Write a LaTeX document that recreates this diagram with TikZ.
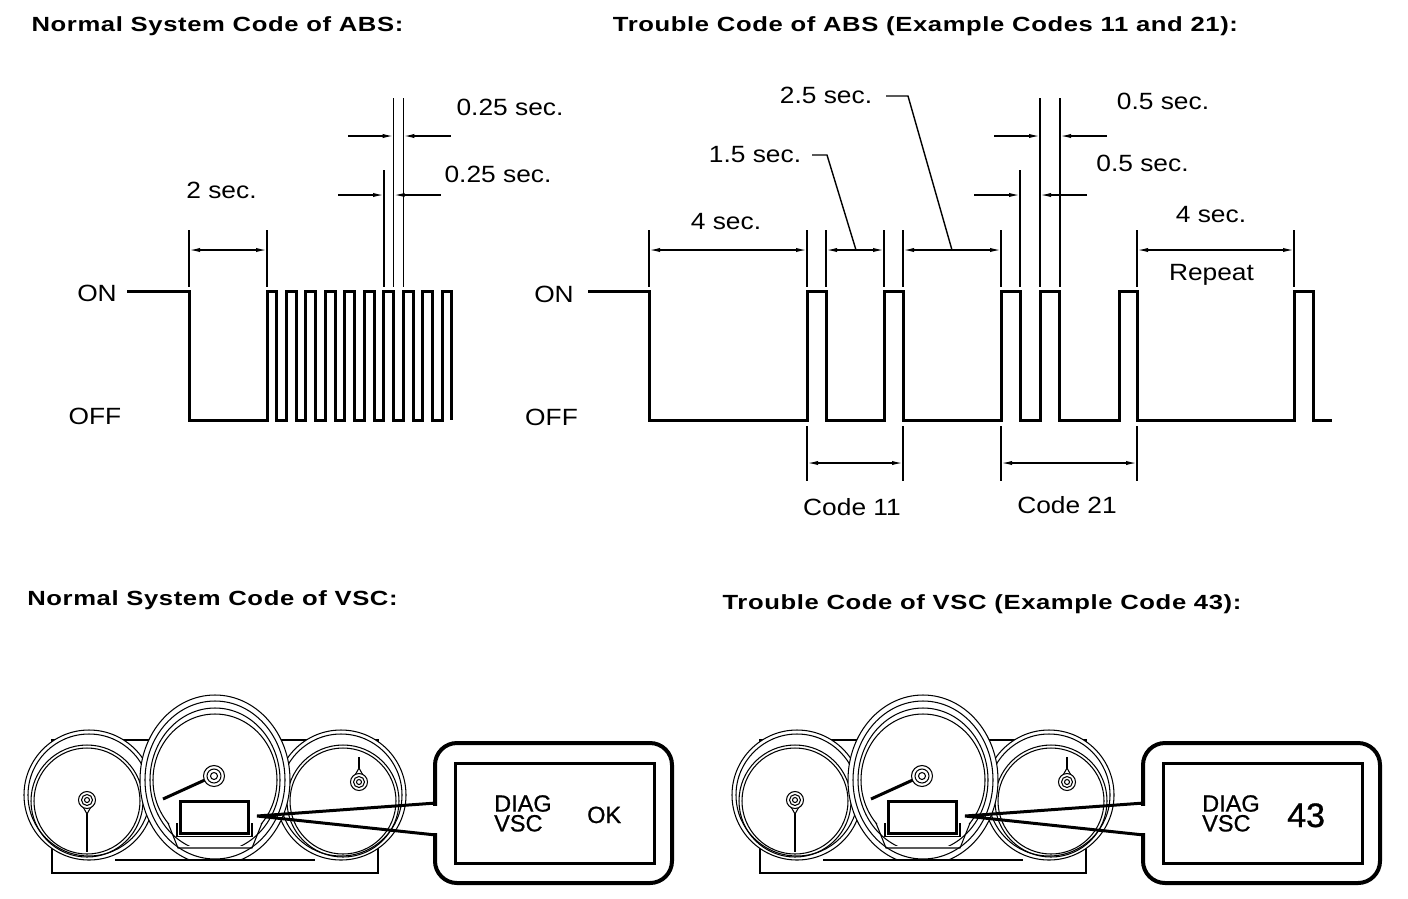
\documentclass[tikz,border=0pt]{standalone}
\usepackage{fontspec}
\setmainfont{Liberation Sans}
\newfontfamily\lblfam[FakeStretch=1.12]{Liberation Sans}
\newfontfamily\ttlfam[FakeStretch=1.25,LetterSpace=3]{Liberation Sans}
\newfontfamily\lcdfam[FakeBold=0.8]{Liberation Sans}
\usetikzlibrary{arrows.meta}

\newcommand\drawcluster[2]{%
  % housing
  \filldraw[fill=white,gline] (52,740) rectangle (378,873);
  % left gauge
  \filldraw[fill=white,gline] (89,795) circle[radius=65pt];
  \draw[gline] (89,795) circle[radius=61pt];
  \draw[gline] (87,801) circle[radius=56pt];
  \draw[gline] (87,801) circle[radius=53pt];
  % right gauge
  \filldraw[fill=white,gline] (341,795) circle[radius=65pt];
  \draw[gline] (341,795) circle[radius=61pt];
  \draw[gline] (343,801) circle[radius=56pt];
  \draw[gline] (343,801) circle[radius=53pt];
  % center gauge
  \begin{scope}
    \clip (100,600) rectangle (330,860);
    \filldraw[fill=white,gline] (215,780) ellipse[x radius=75pt,y radius=85pt];
    \draw[gline] (215,780) ellipse[x radius=70pt,y radius=79pt];
  \end{scope}
  \begin{scope}
    \clip (100,600) rectangle (330,845);
    \draw[gline] (215,780) ellipse[x radius=65pt,y radius=72pt];
  \end{scope}
  \begin{scope}
    \clip (100,600) rectangle (330,823);
    \draw[gline] (215,780) ellipse[x radius=62pt,y radius=66pt];
  \end{scope}
  \draw[gline] (168,823) -- (178,848) -- (252,848) -- (262,823);
  \draw[gline] (115,860) -- (315,860);
  % left pointer
  \draw[line width=2.2pt] (87,806) -- (87,852);
  \filldraw[fill=white,gline] (82,805) -- (87,814) -- (92,805) -- cycle;
  \filldraw[fill=white,gline] (87,800) circle[radius=8.5pt];
  \draw[gline] (87,800) circle[radius=5.5pt];
  \draw[gline] (87,800) circle[radius=2.5pt];
  % right pointer
  \draw[line width=2.2pt] (359,776) -- (359,757);
  \filldraw[fill=white,gline] (354,777) -- (359,768) -- (364,777) -- cycle;
  \filldraw[fill=white,gline] (359,782) circle[radius=8.5pt];
  \draw[gline] (359,782) circle[radius=5.5pt];
  \draw[gline] (359,782) circle[radius=2.5pt];
  % center pointer
  \draw[line width=3pt] (207,779) -- (163,799);
  \filldraw[fill=white,gline] (214,776) circle[radius=10.5pt];
  \draw[gline] (214,776) circle[radius=7pt];
  \draw[gline] (214,776) circle[radius=3.5pt];
  % small display
  \draw[line width=3pt] (180,801) rectangle (248,833);
  \draw[line width=1.3pt] (177,823) -- (177,836.5) -- (252,836.5) -- (252,823);
  % callout
  \draw[line width=4pt,rounded corners=22pt] (435,743) rectangle (672,883);
  \fill[white] (430,805.5) rectangle (440,832.5);
  \draw[line width=3pt,line join=miter] (436,803) -- (257,816) -- (436,835);
  \draw[line width=3pt] (455,763) rectangle (654,863);
  \node[lcd,align=left,anchor=north west] (#1diag) at (494,795) {DIAG\\VSC};
  #2
}

\begin{document}
\begin{tikzpicture}[x=1pt,y=-1pt,
  >={Latex[length=11pt,width=4.2pt]},
  wave/.style={line width=3pt,line join=miter},
  ext/.style={line width=1.1pt},
  dim/.style={line width=1.4pt},
  gline/.style={line width=1.05pt},
  lbl/.style={font=\lblfam\fontsize{23.5}{26}\selectfont,inner sep=0pt,anchor=base},
  ttl/.style={font=\ttlfam\bfseries\fontsize{20.5}{24}\selectfont,inner sep=0pt,anchor=base},
  lcd/.style={font=\lcdfam\fontsize{23.5}{19.8}\selectfont,inner sep=0pt},
  lead/.style={line width=1.4pt,line join=miter}]
\fill[white] (0,0) rectangle (1408,898);
\useasboundingbox (0,0) rectangle (1408,898);

% ---------- titles
\node[ttl] (t1) at (217.5,31) {Normal System Code of ABS:};
\node[ttl] (t2) at (925.5,31) {Trouble Code of ABS (Example Codes 11 and 21):};
\node[ttl] (t3) at (212.5,605) {Normal System Code of VSC:};
\node[ttl] (t4) at (982,609) {Trouble Code of VSC (Example Code 43):};

% ---------- left waveform
\node[lbl] (on1) at (97,301) {ON};
\node[lbl] (off1) at (95,424) {OFF};
\draw[wave] (127,291) -- (189,291) -- (189,420) -- (267,420) -- (267,291)
  \foreach \k in {1,...,9} { -- ++(9.735,0) -- ++(0,129) -- ++(9.735,0) -- ++(0,-129) }
  -- ++(9.735,0) -- ++(0,129);
% 2 sec
\draw[ext] (189,230) -- (189,287);
\draw[ext] (267,230) -- (267,287);
\draw[dim,<->] (189,250) -- (267,250);
\node[lbl] (l2s) at (221.5,198) {2 sec.};
% 0.25 sec
\draw[ext] (393.7,98) -- (393.7,287);
\draw[ext] (403.3,98) -- (403.3,287);
\draw[ext] (384,170) -- (384,287);
\draw[dim,->] (348,136) -- (393.7,136);
\draw[dim,->] (450.7,136) -- (403.3,136);
\draw[dim,->] (338,195) -- (384,195);
\draw[dim,->] (440.7,195) -- (393.7,195);
\node[lbl] (l025a) at (510,115) {0.25 sec.};
\node[lbl] (l025b) at (498,182) {0.25 sec.};

% ---------- right waveform
\node[lbl] (on2) at (554,302) {ON};
\node[lbl] (off2) at (551.5,425) {OFF};
\draw[wave] (588,291) -- (649,291) -- (649,420) -- (807,420) -- (807,291) -- (826,291)
  -- (826,420) -- (884,420) -- (884,291) -- (903,291) -- (903,420) -- (1001,420)
  -- (1001,291) -- (1020,291) -- (1020,420) -- (1040,420) -- (1040,291) -- (1059,291)
  -- (1059,420) -- (1119,420) -- (1119,291) -- (1137,291) -- (1137,420) -- (1294,420)
  -- (1294,291) -- (1313,291) -- (1313,420) -- (1332,420);
% upper extension lines
\foreach \xx in {649,807,826,884,903,1001,1137,1294} { \draw[ext] (\xx,230) -- (\xx,287); }
\draw[ext] (1040,98) -- (1040,287);
\draw[ext] (1060,98) -- (1060,287);
\draw[ext] (1020,170) -- (1020,287);
% lower extension lines
\foreach \xx in {807,903,1001,1137} { \draw[ext] (\xx,426) -- (\xx,481); }
% dimensions
\draw[dim,<->] (649,250) -- (807,250);
\node[lbl] (l4a) at (726,229) {4 sec.};
\draw[dim,<->] (826,250) -- (884,250);
\draw[lead] (812,155) -- (827,155) -- (856,250);
\node[lbl] (l15) at (755,162) {1.5 sec.};
\draw[dim,<->] (903,250) -- (1001,250);
\draw[lead] (886,96) -- (908,96) -- (952,250);
\node[lbl] (l25) at (826,103) {2.5 sec.};
\draw[dim,->] (994,136) -- (1040,136);
\draw[dim,->] (1107,136) -- (1060,136);
\node[lbl] (l05a) at (1163,109) {0.5 sec.};
\draw[dim,->] (974,195) -- (1020,195);
\draw[dim,->] (1087,195) -- (1040,195);
\node[lbl] (l05b) at (1142.5,171) {0.5 sec.};
\draw[dim,<->] (1137,250) -- (1294,250);
\node[lbl] (l4b) at (1211,222) {4 sec.};
\node[lbl] (rep) at (1211.5,280) {Repeat};
\draw[dim,<->] (807,463) -- (903,463);
\node[lbl] (c11) at (852,515) {Code 11};
\draw[dim,<->] (1001,463) -- (1137,463);
\node[lbl] (c21) at (1067,513) {Code 21};

% ---------- instrument clusters
\begin{scope}
  \drawcluster{a}{\node[lcd,anchor=base west] (aok) at (587,823) {OK};}
\end{scope}
\begin{scope}[xshift=708pt]
  \drawcluster{b}{\node[font=\lcdfam\fontsize{34}{36}\selectfont,inner sep=0pt,anchor=base west] (b43) at (579,827) {43};}
\end{scope}
\end{tikzpicture}
\end{document}
